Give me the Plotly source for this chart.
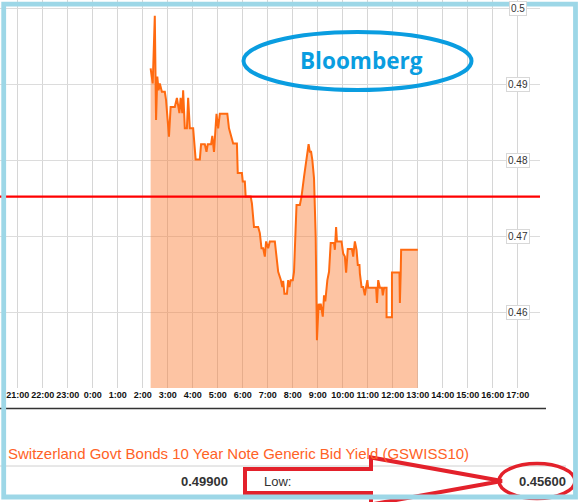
import pandas as pd
import plotly.graph_objects as go

PREV_DAY = "2015-01-01"
DAY = "2015-01-02"

# intraday bid yield, times on DAY
TIMES = [
    "02:19", "02:24", "02:29", "02:32", "02:35", "02:38", "02:41", "02:46",
    "02:53", "02:56", "03:03", "03:07", "03:17", "03:22", "03:28", "03:31",
    "03:35", "03:37", "03:41", "03:46", "03:49", "03:53", "04:01", "04:07",
    "04:17", "04:20", "04:29", "04:33", "04:36", "04:44", "04:47", "04:51",
    "04:57", "05:01", "05:05", "05:23", "05:27", "05:32", "05:37", "05:46",
    "05:48", "05:58", "06:00", "06:05", "06:07", "06:19", "06:22", "06:27",
    "06:37", "06:41", "06:45", "06:49", "06:53", "06:56", "07:01", "07:05",
    "07:17", "07:25", "07:31", "07:35", "07:37", "07:40", "07:46", "07:49",
    "07:52", "07:55", "08:00", "08:03", "08:07", "08:09", "08:17", "08:21",
    "08:27", "08:32", "08:35", "08:38", "08:41", "08:44", "08:47", "08:51",
    "08:55", "08:58", "09:02", "09:05", "09:07", "09:12", "09:15", "09:18",
    "09:23", "09:27", "09:31", "09:39", "09:41", "09:44", "09:46", "09:57",
    "10:01", "10:05", "10:08", "10:12", "10:22", "10:25", "10:29", "10:33",
    "10:36", "10:40", "10:41", "10:45", "10:49", "10:53", "10:56", "10:59",
    "11:01", "11:05", "11:20", "11:22", "11:25", "11:29", "11:34", "11:36",
    "11:39", "11:45", "11:45", "11:58", "11:58", "12:16", "12:17", "12:19",
    "12:20", "13:00",
]
YIELDS = [
    0.4921, 0.4901, 0.4990, 0.4853, 0.4910, 0.4892, 0.4901, 0.4890,
    0.4890, 0.4879, 0.4831, 0.4870, 0.4870, 0.4882, 0.4862, 0.4882,
    0.4862, 0.4892, 0.4842, 0.4842, 0.4882, 0.4842, 0.4842, 0.4801,
    0.4801, 0.4821, 0.4821, 0.4811, 0.4821, 0.4821, 0.4832, 0.4811,
    0.4861, 0.4842, 0.4861, 0.4861, 0.4842, 0.4832, 0.4822, 0.4822,
    0.4783, 0.4783, 0.4772, 0.4772, 0.4752, 0.4752, 0.4743, 0.4712,
    0.4712, 0.4704, 0.4684, 0.4684, 0.4673, 0.4693, 0.4684, 0.4693,
    0.4693, 0.4653, 0.4643, 0.4633, 0.4641, 0.4624, 0.4624, 0.4642,
    0.4633, 0.4642, 0.4642, 0.4653, 0.4699, 0.4741, 0.4741, 0.4752,
    0.4778, 0.4801, 0.4811, 0.4821, 0.4811, 0.4811, 0.4800, 0.4776,
    0.4699, 0.4563, 0.4611, 0.4603, 0.4611, 0.4594, 0.4622, 0.4614,
    0.4642, 0.4653, 0.4691, 0.4691, 0.4682, 0.4712, 0.4693, 0.4693,
    0.4677, 0.4673, 0.4652, 0.4683, 0.4683, 0.4673, 0.4693, 0.4682,
    0.4662, 0.4662, 0.4651, 0.4633, 0.4633, 0.4622, 0.4633, 0.4642,
    0.4632, 0.4632, 0.4632, 0.4612, 0.4642, 0.4632, 0.4632, 0.4622,
    0.4632, 0.4632, 0.4593, 0.4593, 0.4652, 0.4652, 0.4612, 0.4652,
    0.4682, 0.4682,
]
Y_TICKS = [0.46, 0.47, 0.48, 0.49, 0.5]
Y_TICK_LABELS = ["0.46", "0.47", "0.48", "0.49", "0.5"]
REF_LEVEL = 0.4752
TITLE = "Switzerland Govt Bonds 10 Year Note Generic Bid Yield (GSWISS10)"
HIGH = "0.49900"
LOW = "0.45600"

W, H = 579, 502
ML, MR, MT, MB = 0, 39, 0, 114
PW, PH = W - ML - MR, H - MT - MB
FONT = "Arial, Liberation Sans, sans-serif"
RED = "#e3212b"
BLUE = "#0a9de0"


def px_x(x):
    return (x - ML) / PW


def px_y(y):
    return (H - MB - y) / PH


def seg(x0, y0, x1, y1, color, width):
    return dict(type="line", xref="paper", yref="paper", x0=px_x(x0),
                x1=px_x(x1), y0=px_y(y0), y1=px_y(y1),
                line=dict(color=color, width=width))


def label(x, y, text, size, color, anchor="center", bold=False, family=FONT):
    return dict(xref="paper", yref="paper", x=px_x(x), y=px_y(y), text=text,
                showarrow=False, xanchor=anchor, yanchor="middle",
                font=dict(family=family, size=size, color=color,
                          weight="bold" if bold else "normal"))


times = pd.to_datetime([f"{DAY} {t}" for t in TIMES])

fig = go.Figure()
fig.add_scatter(x=times, y=YIELDS, mode="lines", fill="tozeroy",
                fillcolor="rgba(250,125,50,0.45)",
                line=dict(color="#ff6a10", width=2), hoverinfo="skip")
fig.add_hline(y=REF_LEVEL, line=dict(color="#ff0000", width=2.3))

annotations = [
    dict(x=pd.Timestamp(f"{DAY} 17:00"), y=v, xref="x", yref="y", text=t,
         showarrow=False, bgcolor="white", bordercolor="#d8d8d8",
         borderwidth=1, borderpad=1,
         font=dict(family=FONT, size=10, color="#333"))
    for v, t in zip(Y_TICKS, Y_TICK_LABELS)
]
annotations += [
    label(6, 453.5, TITLE, 15, "#ff6226", anchor="left"),
    label(230, 481, HIGH, 13, "#333", anchor="right", bold=True),
    label(262, 481, "Low:", 13, "#333", anchor="left"),
    label(542.5, 481, LOW, 13, "#333", bold=True),
    label(361.5, 60, "Bloomberg", 22.5, BLUE, bold=True,
          family="Open Sans, sans-serif"),
]

arrow = [(245, 469), (371, 469), (371, 457.5), (502, 481), (371, 504.5),
         (371, 493), (245, 493)]
arrow_path = "M " + " L ".join(f"{px_x(x)},{px_y(y)}" for x, y in arrow) + " Z"

shapes = [
    seg(0, 388.5, 546, 388.5, "#333", 1.5),
    seg(0, 408.5, 546, 408.5, "#333", 1.5),
    seg(0, 466, 566, 466, "#d0d0d0", 1),
    dict(type="circle", xref="paper", yref="paper", x0=px_x(243.5),
         x1=px_x(471.5), y0=px_y(90), y1=px_y(32),
         line=dict(color=BLUE, width=4)),
    dict(type="path", xref="paper", yref="paper", path=arrow_path,
         line=dict(color=RED, width=4)),
    dict(type="circle", xref="paper", yref="paper", x0=px_x(499),
         x1=px_x(575), y0=px_y(498.5), y1=px_y(463.5),
         line=dict(color=RED, width=3.5)),
    dict(type="rect", xref="paper", yref="paper", x0=px_x(3.7),
         x1=px_x(575.5), y0=px_y(497), y1=px_y(4.2),
         line=dict(color="#9dd7e7", width=4.8)),
]

fig.update_layout(
    width=W, height=H, margin=dict(l=ML, r=MR, t=MT, b=MB, pad=0),
    paper_bgcolor="white", plot_bgcolor="white", showlegend=False,
    shapes=shapes, annotations=annotations,
    xaxis=dict(type="date",
               range=[f"{PREV_DAY} 20:17:36", f"{DAY} 17:53:10"],
               tick0=f"{PREV_DAY} 21:00", dtick=3600000,
               tickformat="%-H:%M", tickangle=0, showgrid=True,
               gridcolor="#d6d6d6", gridwidth=1, ticks="", showline=False,
               zeroline=False, automargin=False,
               tickfont=dict(family=FONT, size=9, color="#111",
                             weight="bold")),
    yaxis=dict(range=[0.45, 0.50109], tickvals=Y_TICKS,
               showticklabels=False, showgrid=True, gridcolor="#dcdcdc",
               gridwidth=1, ticks="", zeroline=False, showline=False,
               automargin=False),
)

# the page body has a default 8px margin; drop it so the figure sits at 0,0
fig.write_html("out.html", config={"displayModeBar": False},
               post_script="document.body.style.margin = '0';")
